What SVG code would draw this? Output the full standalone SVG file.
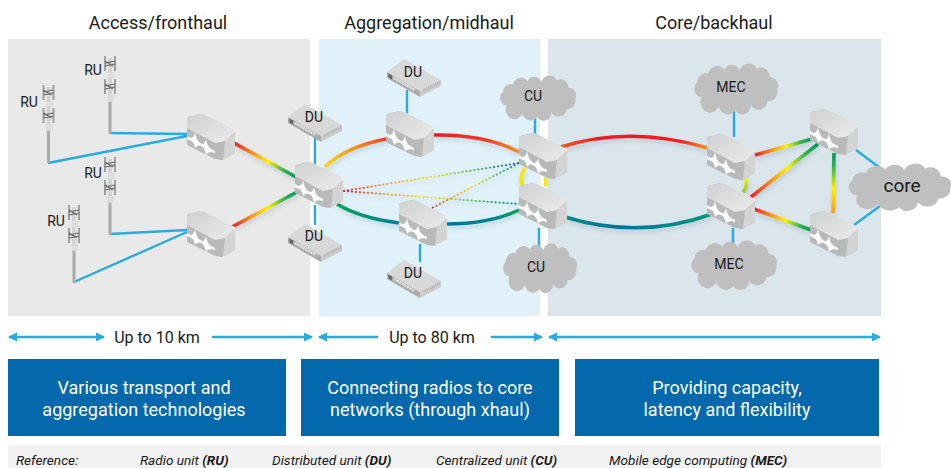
<svg xmlns="http://www.w3.org/2000/svg" width="951" height="468" viewBox="0 0 951 468">
<style>
text{font-family:Roboto,"Liberation Sans",sans-serif;fill:#1a1a1a}
.title{font-size:18px;text-anchor:middle}
.lbl{font-size:14px;text-anchor:middle}
.span{font-size:16px;text-anchor:middle}
.box{font-size:18px;fill:#fff;text-anchor:middle}
.ref{font-size:13.600px;font-style:italic}
.ref tspan{font-weight:700}
.blue{stroke:#29abe2;stroke-width:2.400;fill:none}
.rb{stroke-width:3.600;fill:none}
.dot{stroke-width:1.700;fill:none;stroke-dasharray:2 2}
.arr{stroke:#29abe2;stroke-width:2.400;fill:none;marker-start:url(#ah);marker-end:url(#ah)}
.cloud{fill:#bfbfbf}
</style>
<defs>
<marker id="ah" viewBox="0 0 8 8" refX="7" refY="4" markerWidth="4" markerHeight="4" orient="auto-start-reverse" markerUnits="strokeWidth"><path d="M0,0L8,4L0,8Z" fill="#29abe2"/></marker>
<linearGradient id="top" x1="0" y1="0" x2="1" y2="1"><stop offset="0" stop-color="#cfd0d0"/><stop offset="1" stop-color="#ececec"/></linearGradient>
<linearGradient id="rainbow"><stop offset="0" stop-color="#ed1c24"/><stop offset=".3" stop-color="#f7941d"/><stop offset=".55" stop-color="#fff200"/><stop offset=".8" stop-color="#39b54a"/><stop offset="1" stop-color="#00965e"/></linearGradient>
<linearGradient id="g1" href="#rainbow" gradientUnits="userSpaceOnUse" x1="234" y1="143" x2="296" y2="177"/>
<linearGradient id="g2" href="#rainbow" gradientUnits="userSpaceOnUse" x1="232" y1="227" x2="297" y2="192"/>
<linearGradient id="g3" gradientUnits="userSpaceOnUse" x1="325" y1="167" x2="386" y2="139"><stop offset="0" stop-color="#fdd80f"/><stop offset=".5" stop-color="#f7941d"/><stop offset="1" stop-color="#ef4023"/></linearGradient>
<linearGradient id="g4" gradientUnits="userSpaceOnUse" x1="433" y1="135" x2="519" y2="152"><stop offset="0" stop-color="#ed1c24"/><stop offset=".6" stop-color="#ef3b24"/><stop offset="1" stop-color="#f7941d"/></linearGradient>
<linearGradient id="g5" gradientUnits="userSpaceOnUse" x1="337" y1="204" x2="399" y2="223"><stop offset="0" stop-color="#00a651"/><stop offset="1" stop-color="#007f9e"/></linearGradient>
<linearGradient id="g6" gradientUnits="userSpaceOnUse" x1="446" y1="224" x2="519" y2="210"><stop offset="0" stop-color="#00759c"/><stop offset=".7" stop-color="#008a8a"/><stop offset="1" stop-color="#00a651"/></linearGradient>
<linearGradient id="g7" gradientUnits="userSpaceOnUse" x1="561" y1="147" x2="708" y2="148"><stop offset="0" stop-color="#f15a24"/><stop offset=".25" stop-color="#ed1c24"/><stop offset=".8" stop-color="#ed1c24"/><stop offset="1" stop-color="#f7941d"/></linearGradient>
<linearGradient id="g8" gradientUnits="userSpaceOnUse" x1="565" y1="217" x2="712" y2="214"><stop offset="0" stop-color="#008a8a"/><stop offset=".4" stop-color="#00759c"/><stop offset="1" stop-color="#00967a"/></linearGradient>
<linearGradient id="g9" href="#rainbow" gradientUnits="userSpaceOnUse" x1="755" y1="155" x2="812" y2="139"/>
<linearGradient id="g10" href="#rainbow" gradientUnits="userSpaceOnUse" x1="751" y1="197" x2="818" y2="144"/>
<linearGradient id="g11" href="#rainbow" gradientUnits="userSpaceOnUse" x1="754" y1="209" x2="811" y2="230"/>
<linearGradient id="g12" gradientUnits="userSpaceOnUse" x1="833" y1="213" x2="834" y2="153"><stop offset="0" stop-color="#f7941d"/><stop offset=".4" stop-color="#fff200"/><stop offset=".75" stop-color="#39b54a"/><stop offset="1" stop-color="#00965e"/></linearGradient>
<linearGradient id="g13" gradientUnits="userSpaceOnUse" x1="746" y1="178" x2="743" y2="192"><stop offset="0" stop-color="#fff200"/><stop offset="1" stop-color="#8dc63f"/></linearGradient>
<linearGradient id="d1" gradientUnits="userSpaceOnUse" x1="343" y1="191" x2="519" y2="163"><stop offset="0" stop-color="#ed1c24"/><stop offset=".25" stop-color="#f7941d"/><stop offset=".5" stop-color="#f5e000"/><stop offset=".75" stop-color="#39b54a"/><stop offset="1" stop-color="#00759c"/></linearGradient>
<linearGradient id="d2" href="#d1" x1="343" y1="191" x2="519" y2="204"/>
<linearGradient id="d3" href="#d1" x1="432" y1="208" x2="519" y2="163"/>
<filter id="sh" x="-10%" y="-10%" width="120%" height="130%"><feDropShadow dx="1" dy="3" stdDeviation="2" flood-color="#5a7a8a" flood-opacity=".25"/></filter>
<g id="router">
<path d="M1,2L13,-1L48,17V38L35,45L28,44L0,30V4Z" fill="#b8b9b9"/>
<path d="M0,13V4Q0,2 2,2L13,-1Q17,-1 20,1L48,15V17L38,26L28,28Z" fill="url(#top)"/>
<path d="M38,26L48,17V38L36,44.500Z" fill="#d4d4d4"/>
<path d="M0,21L14,28.500L28,36V38.500L14,31L0,24Z" fill="#fff"/>
<path d="M3,23Q7,23 8,17Q9,25 14,29ZM14,29Q18,30 19,24Q20,32 26,36ZM3,24Q7,27 8,33Q9,31 14,30ZM14,31Q18,33 19,40Q20,37 26,37Z" fill="#fff"/>
</g>
<g id="du">
<path d="M0,14L17,1L54,22L33,33Z" fill="#d8d8d8"/>
<path d="M0,14L33,33V39L0,20Z" fill="#ababab"/>
<path d="M33,33L54,22V28L33,39Z" fill="#cdcdcd"/>
<path d="M1.500,15.500V19.500L5,21.500V17.500Z" fill="#666"/>
<path d="M7,20L28,32" stroke="#f2f2f2" stroke-width="2.400" stroke-dasharray="2 1" fill="none"/>
<path d="M36,33L53,24" stroke="#b4b4b4" stroke-width="3" stroke-dasharray="1 1" fill="none"/>
</g>
<path id="cl" class="cloud" d="M10,34A9,9 0 0 1 5,18A10,10 0 0 1 18,9A11,11 0 0 1 37,5A10,10 0 0 1 55,6A11,11 0 0 1 75,4A10,10 0 0 1 90,13A9,9 0 0 1 99,26A10,10 0 0 1 88,38A11,11 0 0 1 68,42A10,10 0 0 1 50,48A12,12 0 0 1 30,44A11,11 0 0 1 10,34Z"/>
<g id="tower">
<path d="M0,30V78" stroke="#aaa" stroke-width="3" fill="none"/>
<path d="M0,2V46" stroke="#d2d2d2" stroke-width="4" fill="none"/>
<circle cx="1" cy="19" r="3.500" fill="#ddd"/><circle cx="1" cy="42" r="3.500" fill="#ddd"/>
<path d="M-5,0V15M5,0V15M-5,23V38M5,23V38" stroke="#a0a0a0" stroke-width="2" fill="none"/>
<path d="M-5,7L5,5M-5,10L5,8M-5,5L3,10M-5,30L5,28M-5,33L5,31M-5,28L3,33" stroke="#666" stroke-width="1.200" fill="none"/>
</g>
</defs>

<g id="panels">
<rect x="8" y="39" width="302" height="277" fill="#e9e9e9"/>
<rect x="319" y="39" width="221" height="277" fill="#e0f1f9"/>
<rect x="548" y="39" width="333" height="277" fill="#dae5ec"/>
<rect x="8" y="445" width="873" height="23" fill="#f1f1f1"/>
</g>
<g id="titles">
<text class="title" x="158" y="29">Access/fronthaul</text>
<text class="title" x="429" y="29">Aggregation/midhaul</text>
<text class="title" x="714" y="29">Core/backhaul</text>
</g>

<g id="connectors">
<g>
<path class="blue" d="M48,163L187,136M110,133L187,134M110,234L187,230M74,282L187,232"/>
<path class="blue" d="M734,111V137M733,228V243M535,118V136M539,228V247M407,90V113M420,244V262M315,137V164M315,205V225M856,150L880,168M854,225L880,206"/>
</g>
<g filter="url(#sh)">
<path class="rb" stroke="url(#g1)" d="M234,143L296,177"/>
<path class="rb" stroke="url(#g2)" d="M232,227L297,192"/>
<path class="rb" stroke="url(#g3)" d="M325,167Q345,147 386,139"/>
<path class="rb" stroke="url(#g4)" d="M433,135Q485,134 519,152"/>
<path class="rb" stroke="url(#g5)" d="M337,204Q360,218 399,223"/>
<path class="rb" stroke="url(#g6)" d="M446,224Q490,224 519,210"/>
<path class="rb" stroke="url(#g7)" d="M561,147Q630,125 708,148"/>
<path class="rb" stroke="url(#g8)" d="M565,217Q640,240 712,214"/>
<path class="rb" stroke="url(#g9)" d="M755,155L812,139"/>
<path class="rb" stroke="url(#g10)" d="M751,197L818,144"/>
<path class="rb" stroke="url(#g11)" d="M754,209L811,230"/>
<path class="rb" stroke="url(#g12)" d="M833,213L834,153"/>
<path class="rb" stroke="url(#g13)" d="M746,178Q748,186 743,192"/>
<path class="rb" stroke="#f6e60c" d="M525,168Q518,178 523,187M545,178Q547,182 545,186"/>
<path class="dot" stroke="url(#d1)" d="M343,191L519,163"/>
<path class="dot" stroke="url(#d2)" d="M343,191L519,204"/>
<path class="dot" stroke="url(#d3)" d="M432,208L519,163"/>
</g>
<g id="spans">
<path class="arr" d="M9,337H104"/><path class="arr" style="marker-start:none" d="M212,337H312"/>
<path class="arr" style="marker-end:none" d="M319,337H378"/><path class="arr" style="marker-start:none" d="M491,337H542"/>
<path class="arr" d="M549,337H880"/>
</g>
</g>

<g id="ru1"><use href="#tower" x="48.500" y="85"/><text class="lbl" x="29" y="107">RU</text></g>
<g id="ru2"><use href="#tower" x="110" y="56"/><text class="lbl" x="93" y="75">RU</text></g>
<g id="ru3"><use href="#tower" x="110" y="157"/><text class="lbl" x="93" y="178">RU</text></g>
<g id="ru4"><use href="#tower" x="74" y="205"/><text class="lbl" x="56" y="226">RU</text></g>

<g id="du1"><use href="#du" x="288" y="103"/><text class="lbl" x="314" y="122">DU</text></g>
<g id="du2"><use href="#du" x="288" y="223"/><text class="lbl" x="314" y="241">DU</text></g>
<g id="du3"><use href="#du" x="387" y="58"/><text class="lbl" x="413" y="77">DU</text></g>
<g id="du4"><use href="#du" x="387" y="259"/><text class="lbl" x="413" y="278">DU</text></g>

<g id="r1"><use href="#router" x="187" y="115"/></g>
<g id="r2"><use href="#router" x="187" y="212"/></g>
<g id="r3"><use href="#router" x="295" y="163"/></g>
<g id="r4"><use href="#router" x="386" y="112"/></g>
<g id="r5"><use href="#router" x="399" y="201"/></g>
<g id="r6"><use href="#router" x="519" y="134"/></g>
<g id="r7"><use href="#router" x="519" y="184"/></g>
<g id="r8"><use href="#router" x="707" y="135"/></g>
<g id="r9"><use href="#router" x="707" y="184"/></g>
<g id="r10"><use href="#router" x="810" y="110"/></g>
<g id="r11"><use href="#router" x="810" y="212"/></g>

<g id="cu1"><use href="#cl" transform="translate(499,77) scale(.77,.84)"/><text class="lbl" x="533" y="101">CU</text></g>
<g id="cu2"><use href="#cl" transform="translate(502,245) scale(.75,.92)"/><text class="lbl" x="536" y="272">CU</text></g>
<g id="mec1"><use href="#cl" transform="translate(693,65) scale(.85,.95)"/><text class="lbl" x="731" y="92">MEC</text></g>
<g id="mec2"><use href="#cl" transform="translate(690,242) scale(.87,.92)"/><text class="lbl" x="729" y="269">MEC</text></g>
<g id="core"><use href="#cl" transform="translate(847,165) scale(1.040,.880)"/><text x="902" y="192" style="font-size:19px;text-anchor:middle">core</text></g>

<g id="spanlabels">
<text class="span" x="157" y="343">Up to 10 km</text>
<text class="span" x="432" y="343">Up to 80 km</text>
</g>
<g id="box1"><rect x="8" y="359" width="278" height="77" fill="#0369ac"/><text class="box" x="144" y="394">Various transport and</text><text class="box" x="144" y="416">aggregation technologies</text></g>
<g id="box2"><rect x="301" y="359" width="258" height="77" fill="#0369ac"/><text class="box" x="430" y="394">Connecting radios to core</text><text class="box" x="430" y="416">networks (through xhaul)</text></g>
<g id="box3"><rect x="575" y="359" width="304" height="77" fill="#0369ac"/><text class="box" x="727" y="394">Providing capacity,</text><text class="box" x="727" y="416">latency and flexibility</text></g>
<g id="reference">
<text class="ref" x="16" y="465">Reference:</text>
<text class="ref" x="140" y="465">Radio unit <tspan>(RU)</tspan></text>
<text class="ref" x="272" y="465">Distributed unit <tspan>(DU)</tspan></text>
<text class="ref" x="436" y="465">Centralized unit <tspan>(CU)</tspan></text>
<text class="ref" x="609" y="465">Mobile edge computing <tspan>(MEC)</tspan></text>
</g>
</svg>
